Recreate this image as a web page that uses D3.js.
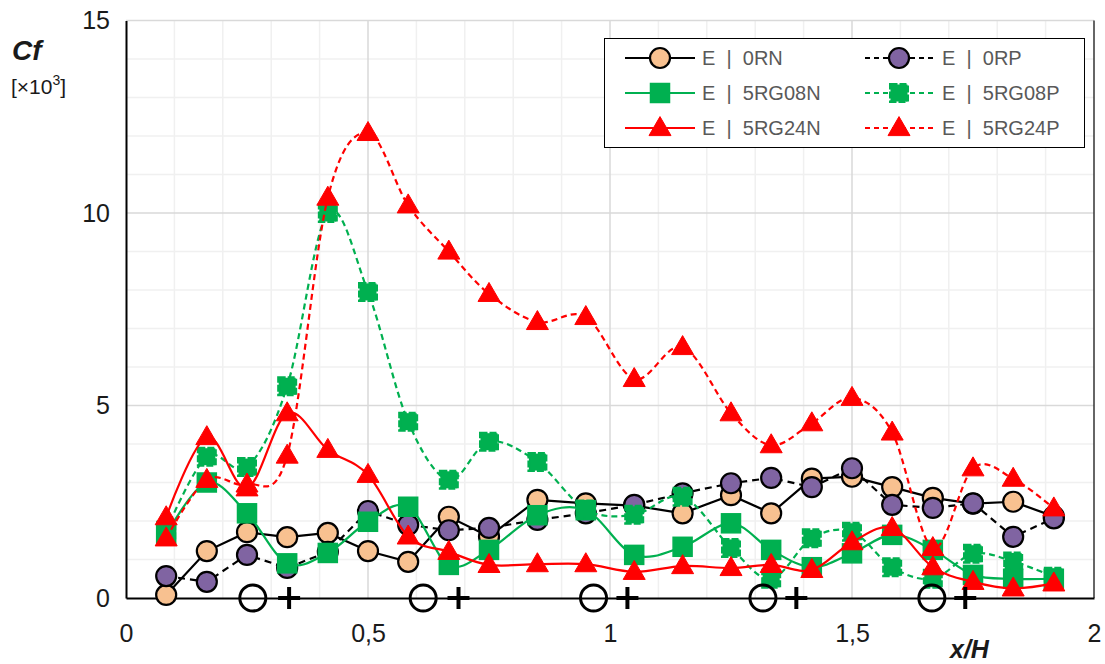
<!DOCTYPE html>
<html><head><meta charset="utf-8">
<script src="https://cdn.jsdelivr.net/npm/d3@7"></script>
<style>body{margin:0;background:#fff}svg{display:block}</style>
</head><body>
<svg id="c" width="1105" height="664"></svg>
<script>
// ---- data ----
const xs = [0.083,0.167,0.25,0.333,0.417,0.5,0.583,0.667,0.75,0.85,0.95,1.05,1.15,1.25,1.333,1.417,1.5,1.583,1.667,1.75,1.833,1.917];
const s0RN = [0.08,1.22,1.71,1.58,1.69,1.22,0.94,2.11,1.6,2.55,2.46,2.4,2.2,2.67,2.2,3.1,3.15,2.88,2.6,2.45,2.5,2.12];
const s0RP = [0.57,0.42,1.12,0.78,1.2,2.26,1.9,1.76,1.82,2.03,2.2,2.42,2.72,2.98,3.12,2.88,3.37,2.42,2.34,2.46,1.59,2.07];
const s5RG08N = [1.65,3.0,2.2,0.9,1.17,1.98,2.37,0.86,1.25,2.15,2.28,1.12,1.33,1.94,1.25,0.8,1.16,1.64,1.25,0.6,0.5,0.5];
const s5RG08P = [1.75,3.67,3.4,5.5,10.0,7.95,4.58,3.07,4.06,3.53,2.3,2.16,2.63,1.3,0.5,1.55,1.72,0.8,0.5,1.15,0.95,0.55];
const s5RG24N = [2.1,4.18,2.85,4.8,3.85,3.2,1.6,1.2,0.86,0.88,0.88,0.68,0.83,0.78,0.86,0.73,1.45,1.82,0.8,0.42,0.25,0.38];
const s5RG24P = [1.55,3.07,2.95,3.7,10.4,12.08,10.2,9.0,7.9,7.17,7.3,5.69,6.52,4.8,3.97,4.54,5.2,4.3,1.3,3.37,3.1,2.33];
const seriesNames = ["E  |  0RN","E  |  0RP","E  |  5RG08N","E  |  5RG08P","E  |  5RG24N","E  |  5RG24P"];
const ribCircles = [0.262,0.614,0.966,1.316,1.665];
const ribPluses = [0.337,0.687,1.036,1.385,1.734];
const xTicks = [0,0.5,1,1.5,2];
const xTickLabels = ["0","0,5","1","1,5","2"];
const yTicks = [0,5,10,15];

// ---- chart ----
const svg = d3.select("#c");
const x = d3.scaleLinear().domain([0,2]).range([126,1094]);
const y = d3.scaleLinear().domain([0,15]).range([598,20.5]);
const FONT = "Liberation Sans, Arial, sans-serif";

const grid = svg.append("g");
grid.selectAll(".mx").data(d3.range(1,20).map(i=>i/10).filter(v=>Math.abs(v*2-Math.round(v*2))>1e-6))
  .join("line").attr("x1",d=>x(d)).attr("x2",d=>x(d)).attr("y1",y(0)).attr("y2",y(15))
  .attr("stroke","#f0f0f0").attr("stroke-width",1.5);
grid.selectAll(".my").data(d3.range(1,15).filter(v=>v%5!==0))
  .join("line").attr("x1",x(0)).attr("x2",x(2)).attr("y1",d=>y(d)).attr("y2",d=>y(d))
  .attr("stroke","#f0f0f0").attr("stroke-width",1.5);
grid.selectAll(".Mx").data([0.5,1,1.5])
  .join("line").attr("x1",d=>x(d)).attr("x2",d=>x(d)).attr("y1",y(0)).attr("y2",y(15))
  .attr("stroke","#d9d9d9").attr("stroke-width",1.5);
grid.selectAll(".My").data([5,10,15])
  .join("line").attr("x1",x(0)).attr("x2",x(2)).attr("y1",d=>y(d)).attr("y2",d=>y(d))
  .attr("stroke","#d9d9d9").attr("stroke-width",1.5);
svg.append("line").attr("x1",x(2)).attr("x2",x(2)).attr("y1",y(15)).attr("y2",y(0))
  .attr("stroke","#333").attr("stroke-width",1.5);

// axes
const xAxis = d3.axisBottom(x).tickValues(xTicks).tickFormat((d,i)=>xTickLabels[i]).tickSize(0).tickPadding(26);
const gx = svg.append("g").attr("transform",`translate(0,${y(0)})`).call(xAxis);
gx.select(".domain").attr("stroke","#000").attr("stroke-width",2);
gx.selectAll("text").attr("font-family",FONT).attr("font-size",25).attr("fill","#1a1a1a");
const yAxis = d3.axisLeft(y).tickValues(yTicks).tickSize(0).tickPadding(16);
const gy = svg.append("g").attr("transform",`translate(${x(0)},0)`).call(yAxis);
gy.select(".domain").attr("stroke","#000").attr("stroke-width",2);
gy.selectAll("text").attr("font-family",FONT).attr("font-size",25).attr("fill","#1a1a1a");

// axis titles
svg.append("text").attr("x",12).attr("y",60).text("Cf")
  .attr("font-family",FONT).attr("font-size",28).attr("font-weight","bold").attr("font-style","italic").attr("fill","#1a1a1a");
const t2 = svg.append("text").attr("x",11).attr("y",94)
  .attr("font-family",FONT).attr("font-size",21).attr("fill","#1a1a1a");
t2.append("tspan").text("[×10");
t2.append("tspan").text("3").attr("font-size",14).attr("dy",-9);
t2.append("tspan").text("]").attr("dy",9);
svg.append("text").attr("x",950).attr("y",658).text("x/H")
  .attr("font-family",FONT).attr("font-size",25).attr("font-weight","bold").attr("font-style","italic").attr("fill","#1a1a1a");

// series
const styles = [
  {data:s0RN, line:"#000", dash:null, curve:d3.curveLinear, marker:"circle", fill:"#F8C190", stroke:"#000"},
  {data:s0RP, line:"#000", dash:"7,5", curve:d3.curveLinear, marker:"circle", fill:"#8064A2", stroke:"#000"},
  {data:s5RG08N, line:"#00B050", dash:null, curve:d3.curveCatmullRom.alpha(0), marker:"square", fill:"#00B050", stroke:"#00B050"},
  {data:s5RG08P, line:"#00B050", dash:"6,4", curve:d3.curveCatmullRom.alpha(0), marker:"squareDash", fill:"#00B050", stroke:"#00B050"},
  {data:s5RG24N, line:"#FF0000", dash:null, curve:d3.curveCatmullRom.alpha(0), marker:"triangle", fill:"#FF0000", stroke:"#FF0000"},
  {data:s5RG24P, line:"#FF0000", dash:"6,4", curve:d3.curveCatmullRom.alpha(0), marker:"triangle", fill:"#FF0000", stroke:"#FF0000"}
];

function drawMarker(g, type, cx, cy, st){
  if(type==="circle"){
    g.append("circle").attr("cx",cx).attr("cy",cy).attr("r",10).attr("fill",st.fill).attr("stroke",st.stroke).attr("stroke-width",2.2);
  } else if(type==="square"){
    const s=19;
    g.append("rect").attr("x",cx-s/2).attr("y",cy-s/2).attr("width",s).attr("height",s).attr("fill",st.fill).attr("stroke",st.stroke).attr("stroke-width",1.5);
  } else if(type==="squareDash"){
    const s=17;
    g.append("rect").attr("x",cx-s/2).attr("y",cy-s/2).attr("width",s).attr("height",s).attr("fill",st.fill).attr("stroke",st.stroke).attr("stroke-width",3).attr("stroke-dasharray","7,2");
  } else if(type==="triangle"){
    const w=22, h=19;
    g.append("path").attr("d",`M${cx},${cy-h*0.6}L${cx+w/2},${cy+h*0.4}L${cx-w/2},${cy+h*0.4}Z`).attr("fill",st.fill).attr("stroke",st.stroke).attr("stroke-width",1);
  }
}

styles.forEach(st=>{
  const g = svg.append("g");
  const pts = xs.map((xv,i)=>[xv,st.data[i]]);
  const line = d3.line().x(d=>x(d[0])).y(d=>y(d[1])).curve(st.curve);
  g.append("path").attr("d",line(pts)).attr("fill","none").attr("stroke",st.line).attr("stroke-width",2.2)
    .attr("stroke-dasharray",st.dash);
  pts.forEach(p=>drawMarker(g, st.marker, x(p[0]), y(p[1]), st));
});

// rib markers on axis
const rg = svg.append("g");
ribCircles.forEach(v=>rg.append("circle").attr("cx",x(v)).attr("cy",y(0)).attr("r",13).attr("fill","none").attr("stroke","#000").attr("stroke-width",3));
ribPluses.forEach(v=>{
  rg.append("line").attr("x1",x(v)-11).attr("x2",x(v)+11).attr("y1",y(0)).attr("y2",y(0)).attr("stroke","#000").attr("stroke-width",4);
  rg.append("line").attr("x1",x(v)).attr("x2",x(v)).attr("y1",y(0)-11).attr("y2",y(0)+11).attr("stroke","#000").attr("stroke-width",4);
});

// legend
const lg = svg.append("g");
lg.append("rect").attr("x",604.5).attr("y",38.5).attr("width",480).attr("height",109).attr("fill","#fff").attr("stroke","#000").attr("stroke-width",1);
const legX = [[625,695,660,702],[865,933,899,942]];
const legY = [58,93,128];
styles.forEach((st,i)=>{
  const col=i%2,row=Math.floor(i/2);
  const [x1,x2,mx,tx]=legX[col]; const ly=legY[row];
  lg.append("line").attr("x1",x1).attr("x2",x2).attr("y1",ly).attr("y2",ly).attr("stroke",st.line).attr("stroke-width",2.2).attr("stroke-dasharray",st.dash?"5,4":null);
  drawMarker(lg, st.marker, mx, ly, st);
  lg.append("text").attr("x",tx).attr("y",ly+7).text(seriesNames[i]).style("white-space","pre")
    .attr("font-family",FONT).attr("font-size",20).attr("fill","#595959");
});
</script>
</body></html>
